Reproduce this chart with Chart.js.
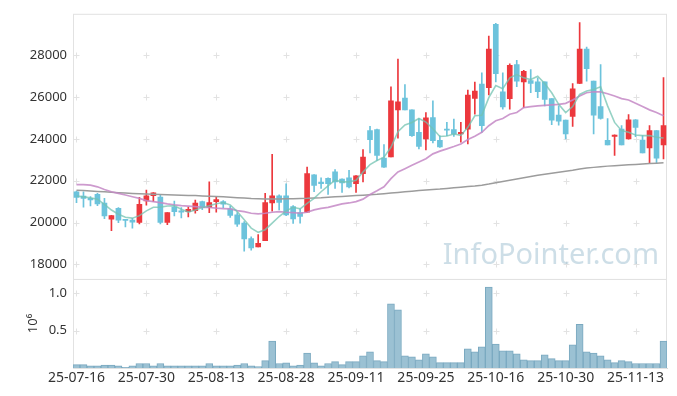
<!DOCTYPE html>
<html>
<head>
<meta charset="utf-8">
<title>Price chart</title>
<script src="https://cdn.jsdelivr.net/npm/chart.js"></script>
<style>
  html, body { margin: 0; padding: 0; background: #fff; }
  canvas { display: block; }
</style>
</head>
<body>
<canvas id="chart" width="677" height="396"></canvas>
<script>
const dates = ['25-07-16','25-07-17','25-07-18','25-07-21','25-07-22','25-07-23','25-07-24','25-07-25','25-07-28','25-07-29',
  '25-07-30','25-07-31','25-08-01','25-08-04','25-08-05','25-08-06','25-08-07','25-08-08','25-08-11','25-08-12',
  '25-08-13','25-08-14','25-08-18','25-08-19','25-08-20','25-08-21','25-08-22','25-08-25','25-08-26','25-08-27',
  '25-08-28','25-08-29','25-09-01','25-09-02','25-09-03','25-09-04','25-09-05','25-09-08','25-09-09','25-09-10',
  '25-09-11','25-09-12','25-09-15','25-09-16','25-09-17','25-09-18','25-09-19','25-09-22','25-09-23','25-09-24',
  '25-09-25','25-09-26','25-09-29','25-09-30','25-10-01','25-10-02','25-10-10','25-10-13','25-10-14','25-10-15',
  '25-10-16','25-10-17','25-10-20','25-10-21','25-10-22','25-10-23','25-10-24','25-10-27','25-10-28','25-10-29',
  '25-10-30','25-10-31','25-11-03','25-11-04','25-11-05','25-11-06','25-11-07','25-11-10','25-11-11','25-11-12',
  '25-11-13','25-11-14','25-11-17','25-11-18','25-11-19'];

const tickDates = ['25-07-16','25-07-30','25-08-13','25-08-28','25-09-11','25-09-25','25-10-16','25-10-30','25-11-13'];
const priceTicks = [18000, 20000, 22000, 24000, 26000, 28000];
const volumeTicks = [500000, 1000000];

const open = [21470,21270,21155,21345,20937,20160,20681,20130,20113,20004,
  21037,21284,21222,20004,20738,20558,20525,20572,21000,20729,
  21000,21000,20653,20368,19970,19231,18833,19136,20937,21284,
  21284,20762,20478,20492,22279,21933,22110,22421,22075,22137,
  21866,22340,24398,24445,23085,23146,25393,25962,25393,24317,
  24000,25028,23938,24450,24445,24236,24473,25943,26625,26450,
  29484,26260,25929,27554,26734,26796,26734,26734,25929,25137,
  24900,25075,26654,28299,26768,25549,23938,24127,24473,24000,
  24919,23952,23573,24398,23715];
const high = [21500,21470,21240,21400,21155,20350,20715,20135,20207,21212,
  21553,21430,21307,20480,21023,20714,20738,21070,21030,21947,
  21236,21047,20786,20478,20051,19316,19420,21393,23260,21330,
  21850,20810,20653,22658,22290,22137,22140,22530,22090,22500,
  22250,23497,24601,24470,23734,26497,27825,26606,25400,24980,
  25265,25820,24150,24791,24947,24790,26341,26720,27161,28929,
  29530,27161,27600,27763,27290,27317,26924,26740,25935,25583,
  24905,26654,29564,28393,26775,27554,24980,24195,24635,25170,
  24925,24161,24635,24400,26938];
const low = [20950,20730,20800,20810,20180,19610,19990,19790,19733,19932,
  20833,20999,19932,19895,20312,20226,20264,20454,20620,20478,
  20501,20715,20240,19814,18629,18676,18830,19130,20549,20606,
  20330,19956,19970,20480,21480,21630,21345,21630,21440,21660,
  21440,21947,23336,22976,22640,23140,24033,25390,24127,23525,
  23478,23810,23600,24161,24127,23843,23762,25184,24317,26110,
  26734,25421,25421,26500,25502,26213,25976,25583,24682,24663,
  24000,24601,26650,26768,24236,24947,23710,23213,23710,23995,
  24113,23330,22814,22814,23050];
const close = [21200,21155,21080,20890,20321,20335,20113,20100,20018,20871,
  21284,21426,20004,20478,20525,20501,20634,20937,20715,20952,
  21094,20880,20335,19923,19212,18785,19008,20952,21284,20966,
  20359,20179,20288,22340,21772,21866,21866,21947,21900,21710,
  22231,23132,23971,23213,22644,25820,25772,25393,24161,23639,
  25014,23924,23620,24420,24236,24317,26104,26294,24635,28299,
  27128,25535,27526,26768,27242,26654,26260,25895,24900,24853,
  24236,26403,28299,27365,25137,24981,23715,24189,23715,24919,
  24554,23336,24398,23085,24635];

const ma5 = [21270,21230,21190,21120,20870,20600,20400,20250,20210,20330,
  20560,20730,20740,20790,20800,20640,20500,20600,20720,20800,
  20900,20960,20843,20525,20130,19733,19530,19657,19970,20288,
  20558,20729,20653,20920,21155,21473,21757,22028,21947,21947,
  22028,22421,22770,22970,23130,23600,24350,24670,24790,24980,
  24810,24490,24120,24140,24236,24170,24554,25108,25137,25976,
  26559,26403,26924,27080,26924,26844,27005,26654,26213,25658,
  25265,25549,26132,26294,26370,26497,25583,24791,24398,24317,
  24189,24161,24161,24080,24047];
const ma20 = [21819,21819,21790,21710,21582,21473,21393,21317,21236,21155,
  21047,21000,20952,20890,20843,20810,20790,20762,20729,20720,
  20690,20670,20653,20572,20525,20444,20416,20444,20492,20525,
  20492,20478,20444,20492,20606,20681,20729,20810,20890,20937,
  21000,21120,21345,21520,21710,22104,22421,22578,22738,22895,
  23051,23288,23416,23525,23639,23762,23971,24127,24317,24635,
  24872,24980,25184,25265,25502,25549,25583,25611,25635,25658,
  25706,25867,26057,26213,26260,26250,26166,26057,25929,25867,
  25706,25549,25393,25265,25108];
const ma60 = [21550,21530,21510,21490,21470,21450,21430,21410,21395,21380,
  21365,21350,21340,21330,21320,21310,21300,21290,21275,21260,
  21245,21230,21210,21190,21170,21150,21140,21130,21130,21130,
  21135,21140,21150,21160,21180,21190,21210,21230,21250,21270,
  21290,21310,21330,21350,21380,21410,21440,21470,21500,21530,
  21560,21580,21600,21630,21660,21690,21720,21750,21790,21840,
  21900,21960,22020,22080,22140,22200,22260,22310,22360,22410,
  22460,22500,22560,22610,22640,22670,22700,22720,22740,22760,
  22780,22800,22820,22840,22860];

const volume = [45000,45000,30000,30000,40000,40000,30000,10000,30000,60000,
  60000,30000,60000,30000,30000,30000,30000,30000,30000,60000,
  30000,30000,30000,40000,60000,30000,20000,100000,360000,60000,
  70000,30000,40000,200000,70000,30000,60000,85000,45000,85000,
  85000,165000,217000,100000,85000,860000,780000,165000,150000,110000,
  190000,150000,72000,72000,72000,72000,256000,217000,283000,1085000,
  320000,230000,230000,190000,110000,100000,100000,178000,125000,100000,
  100000,310000,586000,217000,200000,165000,110000,72000,100000,85000,
  60000,60000,60000,60000,360000];

const UP = '#ec383d';
const DOWN = '#6cc3dc';
const candleColors = close.map((c, i) => c >= open[i] ? UP : DOWN);

Chart.defaults.font.family = '"Noto Sans", sans-serif';
Chart.defaults.font.size = 13;
Chart.defaults.color = '#333';

// small "+" marks where the grid lines would cross, plus light panel frames
const panelDecor = {
  id: 'panelDecor',
  beforeDatasetsDraw(chart) {
    const { ctx, chartArea } = chart;
    const xs = chart.scales.x;
    const xIdx = tickDates.map(d => dates.indexOf(d));
    ctx.save();
    ctx.strokeStyle = '#e2e2e2';
    ctx.lineWidth = 1;
    for (const id of ['y', 'v']) {
      const sc = chart.scales[id];
      ctx.strokeRect(chartArea.left + 0.5, sc.top + 0.5, chartArea.right - chartArea.left - 1, sc.bottom - sc.top);
      for (const t of sc.ticks) {
        const py = Math.round(sc.getPixelForValue(t.value)) + 0.5;
        for (const i of xIdx) {
          const px = Math.round(xs.getPixelForValue(i)) + 0.5;
          ctx.beginPath();
          ctx.moveTo(px - 3, py); ctx.lineTo(px + 3, py);
          ctx.moveTo(px, py - 3); ctx.lineTo(px, py + 3);
          ctx.stroke();
        }
      }
    }
    ctx.restore();
  },
  afterDraw(chart) {
    const { ctx, chartArea } = chart;
    const ys = chart.scales.y;
    ctx.save();
    ctx.font = '29px "Noto Sans", sans-serif';
    ctx.fillStyle = 'rgba(155,190,208,0.5)';
    ctx.textAlign = 'right';
    ctx.textBaseline = 'alphabetic';
    ctx.fillText('InfoPointer.com', chartArea.right - 8, ys.bottom - 15);
    ctx.restore();
  }
};

new Chart(document.getElementById('chart'), {
  data: {
    labels: dates,
    datasets: [
      { type: 'line', label: 'MA5', data: ma5, yAxisID: 'y', borderColor: 'rgba(115,195,178,0.75)', borderWidth: 1.6, pointRadius: 0, order: 0 },
      { type: 'line', label: 'MA20', data: ma20, yAxisID: 'y', borderColor: 'rgba(196,136,198,0.85)', borderWidth: 1.7, pointRadius: 0, order: 0 },
      { type: 'line', label: 'MA60', data: ma60, yAxisID: 'y', borderColor: '#9c9c9c', borderWidth: 1.5, pointRadius: 0, order: 0 },
      { type: 'bar', label: 'body', data: open.map((o, i) => [o, close[i]]), yAxisID: 'y', backgroundColor: candleColors,
        barThickness: 5, grouped: false, minBarLength: 1, order: 1 },
      { type: 'bar', label: 'wick', data: low.map((l, i) => [l, high[i]]), yAxisID: 'y', backgroundColor: candleColors,
        barThickness: 1, grouped: false, order: 2 },
      { type: 'bar', label: 'volume', data: volume, yAxisID: 'v', backgroundColor: '#9bc1d3', borderColor: '#7aa9c0',
        borderWidth: 1, barPercentage: 1, categoryPercentage: 1, grouped: false, order: 3 }
    ]
  },
  options: {
    responsive: false,
    animation: false,
    devicePixelRatio: 1,
    layout: { padding: { top: 10, right: 10, left: 0, bottom: 0 } },
    plugins: { legend: { display: false }, tooltip: { enabled: false } },
    scales: {
      x: {
        offset: true,
        grid: { display: false, drawTicks: false },
        border: { display: true, color: '#d6d6d6' },
        ticks: {
          autoSkip: false, maxRotation: 0, padding: 2, color: '#333', font: { size: 14 },
          callback: (v, i) => tickDates.includes(dates[i]) ? dates[i] : ''
        },
        afterFit: s => { s.height = 28; }
      },
      // left stacked axes are laid out last-defined-first, so the price panel is listed after volume
      v: {
        position: 'left', stack: 'panels', stackWeight: 90,
        min: 0, max: 1195000,
        grid: { display: false, drawTicks: false }, border: { display: false },
        title: { display: true, text: '10⁶', color: '#333', font: { size: 13 }, padding: { top: 25, bottom: 0 } },
        ticks: { padding: 6, color: '#333', callback: v => (v / 1e6).toFixed(1) },
        afterBuildTicks: s => { s.ticks = volumeTicks.map(v => ({ value: v })); },
        afterFit: s => { s.width = 73; }
      },
      y: {
        position: 'left', stack: 'panels', stackWeight: 268,
        min: 17300, max: 29990,
        grid: { display: false, drawTicks: false }, border: { display: false },
        ticks: { padding: 6, color: '#333', callback: v => String(v) },
        afterBuildTicks: s => { s.ticks = priceTicks.map(v => ({ value: v })); },
        afterFit: s => { s.width = 73; }
      }
    }
  },
  plugins: [panelDecor]
});
</script>
</body>
</html>
